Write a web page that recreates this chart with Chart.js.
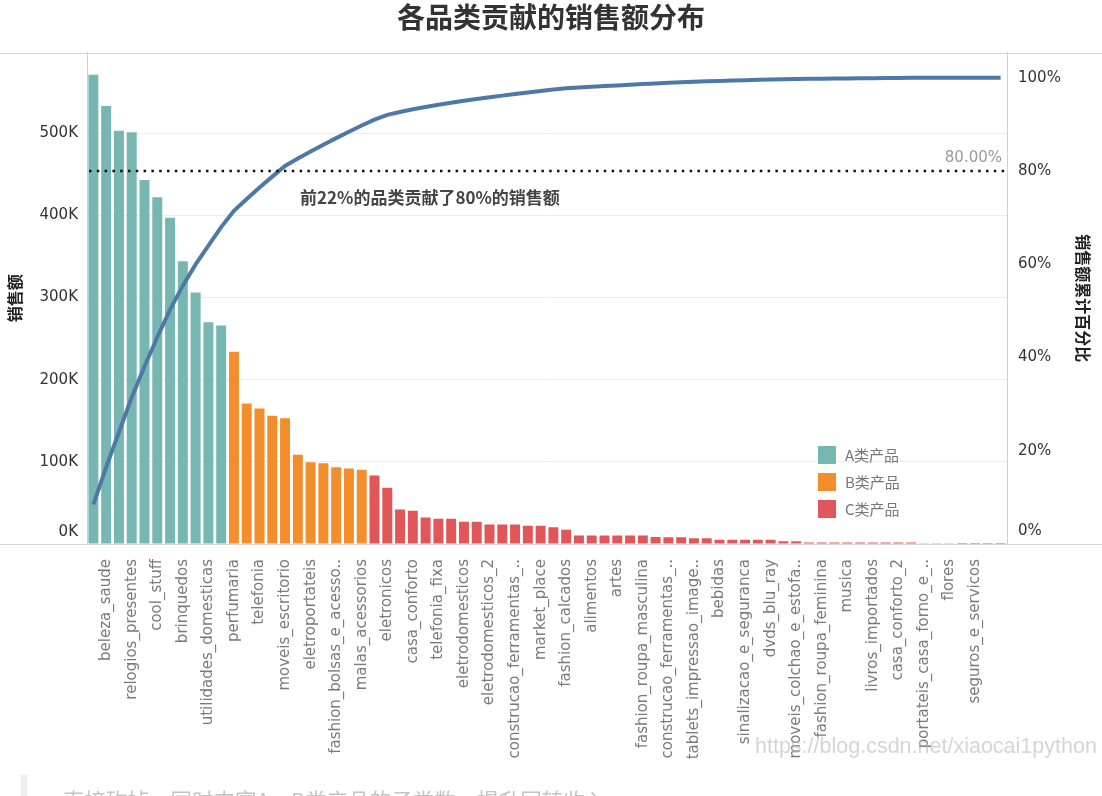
<!DOCTYPE html>
<html>
<head>
<meta charset="utf-8">
<script src="https://cdn.jsdelivr.net/npm/chart.js@4"></script>
<style>
html,body{margin:0;padding:0;background:#fff;overflow:hidden}
#wrap{position:relative;width:1102px;height:796px}
canvas{display:block}
.wm{position:absolute;left:755px;top:734px;font:21.5px 'Liberation Sans',sans-serif;color:rgba(185,185,185,0.6);white-space:nowrap;pointer-events:none}
.note{position:absolute;left:63px;top:784px;font:21.5px 'Noto Sans CJK SC',sans-serif;color:#c4c4c4;white-space:nowrap}
.qbar{position:absolute;left:21px;top:775px;width:6px;height:30px;background:#eeeeee}
</style>
</head>
<body>
<div id="wrap">
<canvas id="c" width="1102" height="796"></canvas>
<div class="wm">https://blog.csdn.net/xiaocai1python</div>
<div class="qbar"></div>
<div class="note">直接砍掉，同时丰富A、B类产品的子类数，提升回转收入</div>
</div>
<script>
// ---------------- data ----------------
const categories = [
 'cama_mesa_banho','beleza_saude','esporte_lazer','relogios_presentes','informatica_acessorios','cool_stuff',
 'moveis_decoracao','brinquedos','automotivo','utilidades_domesticas','ferramentas_jardim','perfumaria',
 'bebes','telefonia','papelaria','moveis_escritorio','pet_shop','eletroportateis',
 'consoles_games','fashion_bolsas_e_acessorios','instrumentos_musicais','malas_acessorios','pcs','eletronicos',
 'construcao_ferramentas_construcao','casa_conforto','livros_interesse_geral','telefonia_fixa','climatizacao','eletrodomesticos',
 'moveis_sala','eletrodomesticos_2','audio','construcao_ferramentas_iluminacao','agro_industria_e_comercio','market_place',
 'casa_construcao','fashion_calcados','construcao_ferramentas_seguranca','alimentos','industria_comercio_e_negocios','artes',
 'artigos_de_natal','fashion_roupa_masculina','livros_tecnicos','construcao_ferramentas_ferramentas','alimentos_bebidas','tablets_impressao_imagem',
 'moveis_cozinha_area_de_servico_jantar_e_jardim','bebidas','artigos_de_festas','sinalizacao_e_seguranca','fashion_underwear_e_moda_praia','dvds_blu_ray',
 'fashion_esporte','moveis_colchao_e_estofado','la_cuisine','fashion_roupa_feminina','cine_foto','musica',
 'artes_e_artesanato','livros_importados','pc_gamer','casa_conforto_2','fraldas_higiene','portateis_casa_forno_e_cafe',
 'moveis_quarto','flores','fashion_roupa_infanto_juvenil','seguros_e_servicos','cds_dvds_musicais','portateis_cozinha_e_preparadores_de_alimentos'
];
const sales = [
 571000,533000,503000,501000,443000,422000,
 397000,344000,306000,270000,266000,234000,
 171000,165000,156000,153000,108500,99600,
 98400,93500,91900,90300,83400,68400,
 42000,40400,32300,30700,30700,27000,
 27000,23700,23700,23700,22100,22100,
 20500,17300,10300,10300,10300,10300,
 10300,10300,8500,8300,8300,7100,
 7100,5100,5100,5100,5100,5100,
 3400,3400,1900,1900,1800,1800,
 1800,1800,1800,1700,1700,300,
 250,200,150,150,100,100
];
const classNames = ['A类产品','B类产品','C类产品'];
const classSizes = [11, 11, 50];
const salesTicks = [0,100000,200000,300000,400000,500000];
const pctTicks = [0,0.2,0.4,0.6,0.8,1.0];
const threshold = 0.8;
const annotationText = '前22%的品类贡献了80%的销售额';
const titleText = '各品类贡献的销售额分布';

// ---------------- styles ----------------
const classColors = ['#76b7b2','#f28e2b','#e15759'];
const tickFont = 'DejaVu Sans';
const cjk = 'Noto Sans CJK SC';

// derived
const classIndex = [];
classSizes.forEach((n,k)=>{for(let i=0;i<n;i++) classIndex.push(k);});
const barColors = classIndex.map(k=>classColors[k]);
const total = sales.reduce((a,b)=>a+b,0);
let run = 0;
const cumShare = sales.map(v=>{run+=v;return run/total;});
const shortName = s => s.length>23 ? s.slice(0,23)+'..' : s;

const decor = {
  id:'decor',
  afterDatasetsDraw(chart){
    const {ctx, chartArea:a, scales} = chart;
    const y80 = scales.y2.getPixelForValue(threshold);
    ctx.save();
    ctx.strokeStyle='#111'; ctx.lineWidth=2.5; ctx.setLineDash([2.5,5.3]);
    ctx.beginPath(); ctx.moveTo(a.left+2, y80); ctx.lineTo(a.right, y80); ctx.stroke();
    ctx.setLineDash([]);
    ctx.font='15px "'+tickFont+'"'; ctx.fillStyle='#9a9a9a'; ctx.textAlign='right'; ctx.textBaseline='middle';
    ctx.fillText((threshold*100).toFixed(2)+'%', a.right-5, y80-13);
    ctx.font='bold 17px "'+cjk+'"'; ctx.fillStyle='#444'; ctx.textAlign='left';
    ctx.fillText(annotationText, a.left+213, y80+27);
    ctx.restore();
  },
  afterDraw(chart){
    const {ctx, chartArea:a, width} = chart;
    ctx.save();
    ctx.strokeStyle='#d4d4d4'; ctx.lineWidth=1;
    const t = Math.round(a.top)+0.5, b = Math.round(a.bottom)+0.5;
    ctx.beginPath(); ctx.moveTo(0,t); ctx.lineTo(width,t); ctx.moveTo(0,b); ctx.lineTo(width,b); ctx.stroke();
    // zero labels (raised like the reference)
    ctx.font='15px "'+tickFont+'"'; ctx.fillStyle='#333'; ctx.textBaseline='middle';
    ctx.textAlign='right'; ctx.fillText('0K', a.left-9, a.bottom-12);
    ctx.textAlign='left'; ctx.fillText('0%', a.right+11, a.bottom-13);
    // legend
    const lx = a.right-189;
    classNames.forEach((n,k)=>{
      const cy = a.bottom-89+k*27;
      ctx.fillStyle=classColors[k]; ctx.fillRect(lx, cy-9, 18, 18);
      ctx.fillStyle='#777'; ctx.font='15px "'+cjk+'"'; ctx.textAlign='left';
      ctx.fillText(n, lx+27, cy);
    });
    ctx.restore();
  }
};

new Chart(document.getElementById('c'), {
  type:'bar',
  data:{
    labels:categories,
    datasets:[
      {type:'line', label:'销售额累计百分比', data:cumShare, yAxisID:'y2', borderColor:'#4e79a7', borderWidth:4,
       pointRadius:0, tension:0, fill:false, order:0},
      {type:'bar', label:'销售额', data:sales, yAxisID:'y', backgroundColor:barColors,
       barPercentage:0.78, categoryPercentage:1, order:1}
    ]
  },
  options:{
    responsive:false, animation:false, devicePixelRatio:1,
    layout:{padding:0},
    plugins:{
      legend:{display:false}, tooltip:{enabled:false},
      title:{display:true, text:titleText, color:'#333', font:{family:cjk, size:28, weight:'bold'}, padding:{top:1,bottom:18}}
    },
    scales:{
      x:{
        grid:{display:false}, border:{display:false},
        ticks:{autoSkip:false, minRotation:90, maxRotation:90, padding:7, color:'#7a7a7a',
          font:{family:tickFont, size:15},
          callback:(v,i)=> (i%2===1 && i<70) ? shortName(categories[i]) : ''},
        afterFit:s=>{s.height=252;}
      },
      y:{
        position:'left', min:0, max:598000,
        afterBuildTicks:s=>{s.ticks=salesTicks.map(v=>({value:v}));},
        grid:{color:ctx=>ctx.tick && ctx.tick.value===0 ? 'rgba(0,0,0,0)' : '#ececec', drawTicks:false},
        border:{display:true, color:'#d0d0d0'},
        ticks:{padding:9, color:'#333', font:{family:tickFont, size:15},
          callback:v=> v===0 ? '' : (v/1000)+'K'},
        title:{display:true, text:'销售额', color:'#222', font:{family:cjk, size:16, weight:'bold'}, padding:{top:5.4,bottom:0}},
        afterFit:s=>{s.width=87;}
      },
      y2:{
        position:'right', min:0, max:1.054,
        afterBuildTicks:s=>{s.ticks=pctTicks.map(v=>({value:v}));},
        grid:{display:false, drawTicks:false},
        border:{display:true, color:'#d0d0d0'},
        ticks:{padding:11, color:'#333', font:{family:tickFont, size:15},
          callback:v=> v===0 ? '' : Math.round(v*100)+'%'},
        title:{display:true, text:'销售额累计百分比', color:'#222', font:{family:cjk, size:16, weight:'bold'}, padding:{top:9.4,bottom:0}},
        afterFit:s=>{s.width=95;}
      }
    }
  },
  plugins:[decor]
});
</script>
</body>
</html>
